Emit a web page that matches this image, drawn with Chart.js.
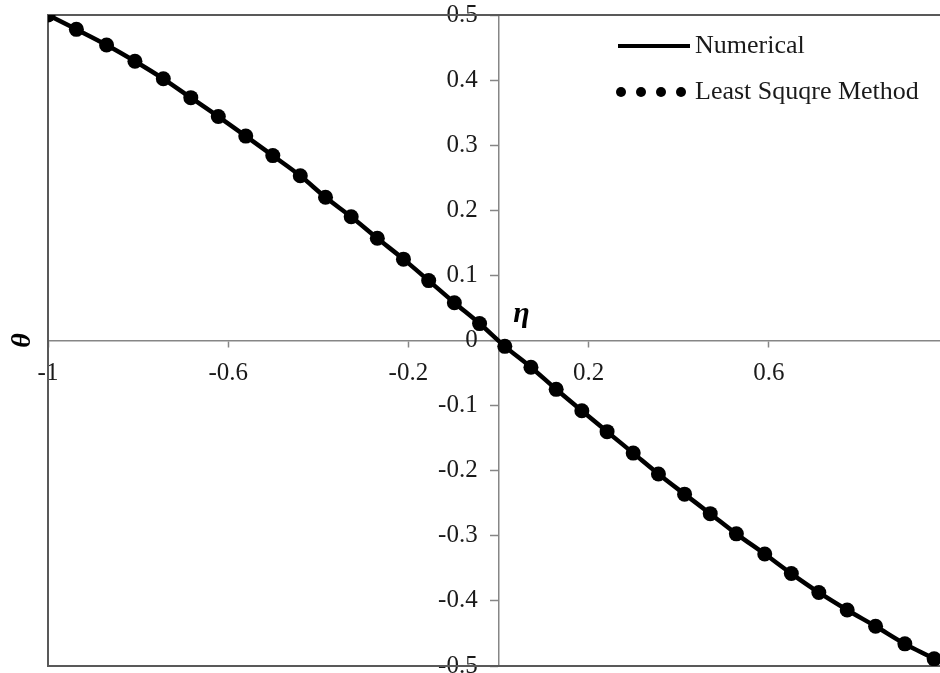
<!DOCTYPE html>
<html>
<head>
<meta charset="utf-8">
<script src="https://cdn.jsdelivr.net/npm/chart.js@4.4.0/dist/chart.umd.min.js"></script>
<style>
  html, body { margin: 0; padding: 0; background: #fff; }
  #wrap { width: 940px; height: 673px; position: relative; }
</style>
</head>
<body>
<div id="wrap"><canvas id="thetaChart"></canvas></div>
<script>
// marker positions (eta) and theta values
const etaValues = [-1.000, -0.937, -0.870, -0.807, -0.744, -0.683, -0.622, -0.561, -0.501, -0.440,
  -0.384, -0.327, -0.269, -0.211, -0.155, -0.098, -0.042, 0.014, 0.072, 0.128,
  0.185, 0.241, 0.299, 0.355, 0.413, 0.470, 0.528, 0.591, 0.650, 0.711,
  0.774, 0.837, 0.902, 0.967];
const lsmTheta = [0.500, 0.478, 0.454, 0.429, 0.402, 0.373, 0.344, 0.314, 0.284, 0.253,
  0.220, 0.190, 0.157, 0.125, 0.092, 0.058, 0.026, -0.009, -0.041, -0.075,
  -0.108, -0.140, -0.173, -0.205, -0.236, -0.266, -0.297, -0.328, -0.358, -0.387,
  -0.414, -0.439, -0.466, -0.489];
// numerical curve runs a bit further, to the right edge of the frame
const numEta = etaValues.concat([0.98]);
const numTheta = lsmTheta.concat([-0.494]);

const xTicks = [-1, -0.6, -0.2, 0.2, 0.6];
const yTicks = [-0.5, -0.4, -0.3, -0.2, -0.1, 0, 0.1, 0.2, 0.3, 0.4, 0.5];
const seriesNames = ['Numerical', 'Least Squqre Method'];

const serif = '"Liberation Serif", "Times New Roman", serif';
Chart.defaults.font.family = serif;
Chart.defaults.color = '#1a1a1a';

const toPoints = (xs, ys) => xs.map((x, i) => ({ x: x, y: ys[i] }));
const fmt = v => String(Math.round(v * 10) / 10);

// axes sit at zero, so they should not eat space from the plot area
const noSpace = s => {
  if (s.isHorizontal()) s.height = 0; else s.width = 0;
  s.paddingTop = s.paddingBottom = s.paddingLeft = s.paddingRight = 0;
};

// frame on top, left and bottom of the plot area
const frame = {
  id: 'frame',
  beforeDatasetsDraw(chart) {
    const { ctx, chartArea: a } = chart;
    ctx.save();
    ctx.strokeStyle = '#595959';
    ctx.lineWidth = 2;
    ctx.beginPath();
    ctx.moveTo(a.right, a.top);
    ctx.lineTo(a.left, a.top);
    ctx.lineTo(a.left, a.bottom);
    ctx.lineTo(a.right, a.bottom);
    ctx.stroke();
    ctx.restore();
  }
};

// axis symbols and the legend box
const labels = {
  id: 'labels',
  afterDraw(chart) {
    const { ctx, chartArea: a, scales } = chart;
    const x0 = scales.x.getPixelForValue(0);
    const y0 = scales.y.getPixelForValue(0);
    ctx.save();
    ctx.fillStyle = '#000';
    ctx.textAlign = 'center';
    ctx.textBaseline = 'middle';
    ctx.font = 'italic bold 30px ' + serif;
    ctx.fillText('\u03B7', x0 + 23, y0 - 26);
    ctx.font = 'italic bold 28px ' + serif;
    ctx.translate(a.left - 25, y0);
    ctx.rotate(-Math.PI / 2);
    ctx.fillText('\u03B8', 0, 0);
    ctx.restore();

    const ds = chart.data.datasets;
    const lx = a.right - 322, tx = a.right - 245;
    ctx.save();
    ctx.font = '26px ' + serif;
    ctx.textAlign = 'left';
    ctx.textBaseline = 'middle';
    ctx.fillStyle = '#1a1a1a';
    ctx.strokeStyle = ds[0].borderColor;
    ctx.lineWidth = 4;
    ctx.beginPath();
    ctx.moveTo(lx, a.top + 31);
    ctx.lineTo(lx + 72, a.top + 31);
    ctx.stroke();
    ctx.fillText(ds[0].label, tx, a.top + 31);
    ctx.fillStyle = ds[1].backgroundColor;
    for (let k = 0; k < 4; k++) {
      ctx.beginPath();
      ctx.arc(lx + 3 + k * 20, a.top + 77, 5, 0, Math.PI * 2);
      ctx.fill();
    }
    ctx.fillStyle = '#1a1a1a';
    ctx.fillText(ds[1].label, tx, a.top + 77);
    ctx.restore();
  }
};

const ctx = document.getElementById('thetaChart');
new Chart(ctx, {
  type: 'scatter',
  data: {
    datasets: [{
      label: seriesNames[0],
      data: toPoints(numEta, numTheta),
      showLine: true,
      borderColor: '#000',
      borderWidth: 4.5,
      pointRadius: 0,
      cubicInterpolationMode: 'monotone',
      clip: 0,
      order: 2
    }, {
      label: seriesNames[1],
      data: toPoints(etaValues, lsmTheta),
      showLine: false,
      backgroundColor: '#000',
      borderColor: '#000',
      pointRadius: 7.5,
      pointBorderWidth: 0,
      clip: 0,
      order: 1
    }]
  },
  options: {
    responsive: true,
    maintainAspectRatio: false,
    animation: false,
    layout: { autoPadding: false, padding: { left: 48, top: 15, right: 0, bottom: 7 } },
    plugins: {
      legend: { display: false },
      tooltip: { enabled: false }
    },
    scales: {
      x: {
        type: 'linear',
        position: { y: 0 },
        min: -1,
        max: 0.98,
        afterBuildTicks: s => { s.ticks = xTicks.map(v => ({ value: v })); },
        afterFit: noSpace,
        grid: { drawOnChartArea: false, tickLength: 6, tickColor: '#868686', tickWidth: 1.5 },
        border: { color: '#868686', width: 1.5 },
        ticks: { autoSkip: false, maxRotation: 0, padding: 12, font: { size: 25 }, callback: fmt }
      },
      y: {
        type: 'linear',
        position: { x: 0 },
        min: -0.5,
        max: 0.5,
        afterBuildTicks: s => { s.ticks = yTicks.map(v => ({ value: v })); },
        afterFit: noSpace,
        grid: { drawOnChartArea: false, tickLength: 8, tickColor: '#868686', tickWidth: 1.5 },
        border: { color: '#868686', width: 1.5 },
        // labels at a zero-positioned axis get no padding, so keep a gap with trailing spaces
        ticks: { autoSkip: false, font: { size: 25 }, callback: v => fmt(v) + '\u2002\u2004' }
      }
    }
  },
  plugins: [frame, labels]
});
</script>
</body>
</html>
